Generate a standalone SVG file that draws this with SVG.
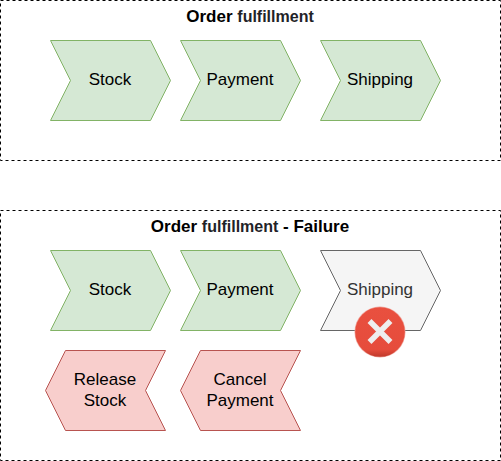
<svg xmlns="http://www.w3.org/2000/svg" width="501" height="461" viewBox="0 0 501 461">
<style>
text{font-family:"Liberation Sans",Arial,sans-serif;text-anchor:middle;font-size:17px;fill:#000}
.frame{fill:#fff;stroke:#000;stroke-dasharray:3 3}
.title{font-weight:bold;font-size:17px}
.soft{fill:#1f2328;font-size:16px}
.ok{fill:#d5e8d4;stroke:#82b366}
.grey{fill:#f5f5f5;stroke:#666}
.bad{fill:#f8cecc;stroke:#b85450}
</style>
<defs>
<polygon id="fwd" points="0,0 100,0 120,40 100,80 0,80 20,40"/>
<polygon id="back" points="20,0 120,0 100,40 120,80 20,80 0,40"/>
<linearGradient id="badge" x1="0" y1="0" x2="0" y2="1"><stop offset="0" stop-color="#e9503f"/><stop offset="0.85" stop-color="#e64c3c"/><stop offset="1" stop-color="#c0392b"/></linearGradient>
</defs>
<g id="frame-top"><rect class="frame" x="0.5" y="0.5" width="500" height="160"/>
<text class="title" x="250" y="22">Order <tspan class="soft">fulfillment</tspan></text></g>
<g id="frame-bottom"><rect class="frame" x="0.5" y="210.5" width="500" height="250"/>
<text class="title" x="250" y="232">Order <tspan class="soft">fulfillment</tspan> - Failure</text></g>
<g id="connectors"></g>
<g id="stock-1"><use href="#fwd" class="ok" x="50.5" y="40.5"/><text x="110" y="85">Stock</text></g>
<g id="payment-1"><use href="#fwd" class="ok" x="180.5" y="40.5"/><text x="240" y="85">Payment</text></g>
<g id="shipping-1"><use href="#fwd" class="ok" x="320.5" y="40.5"/><text x="380" y="85">Shipping</text></g>
<g id="stock-2"><use href="#fwd" class="ok" x="50.5" y="250.5"/><text x="110" y="295">Stock</text></g>
<g id="payment-2"><use href="#fwd" class="ok" x="180.5" y="250.5"/><text x="240" y="295">Payment</text></g>
<g id="shipping-2"><use href="#fwd" class="grey" x="320.5" y="250.5"/><text x="380" y="295" style="fill:#333">Shipping</text></g>
<g id="release-stock"><use href="#back" class="bad" x="45.5" y="350.5"/><text x="105" y="385">Release</text><text x="105" y="406">Stock</text></g>
<g id="cancel-payment"><use href="#back" class="bad" x="180.5" y="350.5"/><text x="240" y="385">Cancel</text><text x="240" y="406">Payment</text></g>
<g id="error-badge"><circle cx="380" cy="332" r="25.5" fill="#f0a59c"/><circle cx="380" cy="332" r="24.8" fill="url(#badge)"/>
<path d="M369.5,321 L390.5,342 M390.5,321 L369.5,342" stroke="#eee" stroke-width="5.5" stroke-linecap="butt" fill="none"/></g>
</svg>
